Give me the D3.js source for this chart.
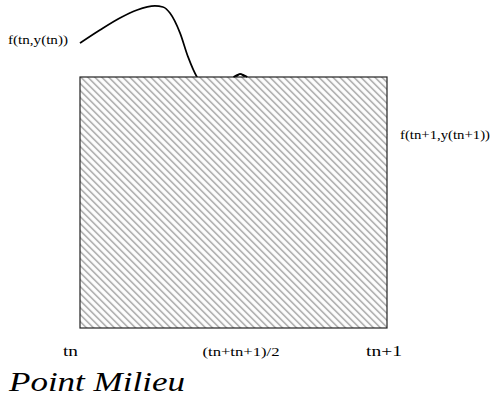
<!DOCTYPE html>
<html>
<head>
<meta charset="utf-8">
<script src="https://cdn.jsdelivr.net/npm/d3@7"></script>
<style>
  html, body { margin: 0; padding: 0; background: #fff; }
  svg { display: block; }
  text { font-family: "Liberation Serif", "Times New Roman", Times, "DejaVu Serif", serif; }
</style>
</head>
<body>
<div id="chart"></div>
<script>
// Curve f(t, y(t)) sampled between tn (t = 0) and tn+1 (t = 1)
const tValues = [0, 0.065, 0.130, 0.186, 0.244, 0.270, 0.293, 0.326, 0.352, 0.381,
                 0.430, 0.500, 0.522, 0.545, 0.600, 0.717, 1.0];
const fValues = [1.135, 1.187, 1.235, 1.267, 1.283, 1.279, 1.255, 1.175, 1.080, 1.0,
                 0.950, 0.992, 1.012, 0.992, 0.960, 0.908, 0.769];

// Midpoint rule: rectangle on [tn, tn+1] with height f at the midpoint
const rectTimes = [0, 1];
const midValue = 1.0;

// Axis labels under the rectangle
const tickTimes = [0, 0.5, 1];
const tickLabels = ["tn", "(tn+tn+1)/2", "tn+1"];

const width = 491, height = 406;
const x = d3.scaleLinear().domain([0, 1]).range([80, 387]);
const y = d3.scaleLinear().domain([0, 1]).range([328, 77]);

const svg = d3.select("#chart").append("svg")
  .attr("width", width).attr("height", height);

// Diagonal hatching for the rectangle
const defs = svg.append("defs");
const pat = defs.append("pattern")
  .attr("id", "hatch")
  .attr("patternUnits", "userSpaceOnUse")
  .attr("width", 10).attr("height", 4.95)
  .attr("patternTransform", "rotate(45)");
pat.append("rect").attr("width", 10).attr("height", 4.95).attr("fill", "#fff");
pat.append("line")
  .attr("x1", 0).attr("x2", 10).attr("y1", 2.4).attr("y2", 2.4)
  .attr("stroke", "#9a9a9a").attr("stroke-width", 1.4);

// The curve, drawn first so the rectangle covers the part below its top
const line = d3.line()
  .x((d, i) => x(tValues[i]))
  .y(d => y(d))
  .curve(d3.curveMonotoneX);
svg.append("path")
  .datum(fValues)
  .attr("d", line)
  .attr("fill", "none")
  .attr("stroke", "#000")
  .attr("stroke-width", 1.7);

svg.append("rect")
  .attr("x", x(rectTimes[0]))
  .attr("y", y(midValue))
  .attr("width", x(rectTimes[1]) - x(rectTimes[0]))
  .attr("height", y(0) - y(midValue))
  .attr("fill", "url(#hatch)")
  .attr("stroke", "#222")
  .attr("stroke-width", 1.2);

// Small portion of the curve that rises above the rectangle top
const bump = tValues.map((t, i) => [t, fValues[i]]).filter(d => d[0] > 0.49 && d[0] < 0.56);
svg.append("path")
  .datum(bump)
  .attr("d", d3.line().x(d => x(d[0])).y(d => y(Math.max(d[1], midValue))).curve(d3.curveMonotoneX))
  .attr("fill", "none")
  .attr("stroke", "#000")
  .attr("stroke-width", 1.7);

// Labels of the two end values of the curve
svg.append("text")
  .attr("x", 8).attr("y", 44)
  .attr("font-size", 12.5)
  .attr("textLength", 60).attr("lengthAdjust", "spacingAndGlyphs")
  .text("f(tn,y(tn))");
svg.append("text")
  .attr("x", 400).attr("y", 139)
  .attr("font-size", 12.5)
  .attr("textLength", 90).attr("lengthAdjust", "spacingAndGlyphs")
  .text("f(tn+1,y(tn+1))");

// Time labels
const tickSizes = [15, 12.5, 15];
const tickWidths = [15, 77, 36];
const tickOffsets = [-17, -31, -21];
svg.selectAll("text.tick")
  .data(tickTimes)
  .join("text")
  .attr("class", "tick")
  .attr("x", (d, i) => x(d) + tickOffsets[i])
  .attr("y", 356)
  .attr("font-size", (d, i) => tickSizes[i])
  .attr("textLength", (d, i) => tickWidths[i])
  .attr("lengthAdjust", "spacingAndGlyphs")
  .text((d, i) => tickLabels[i]);

// Title
svg.append("text")
  .attr("x", 9).attr("y", 391)
  .attr("font-style", "italic")
  .attr("font-size", 27)
  .attr("textLength", 176).attr("lengthAdjust", "spacingAndGlyphs")
  .text("Point Milieu");
</script>
</body>
</html>
